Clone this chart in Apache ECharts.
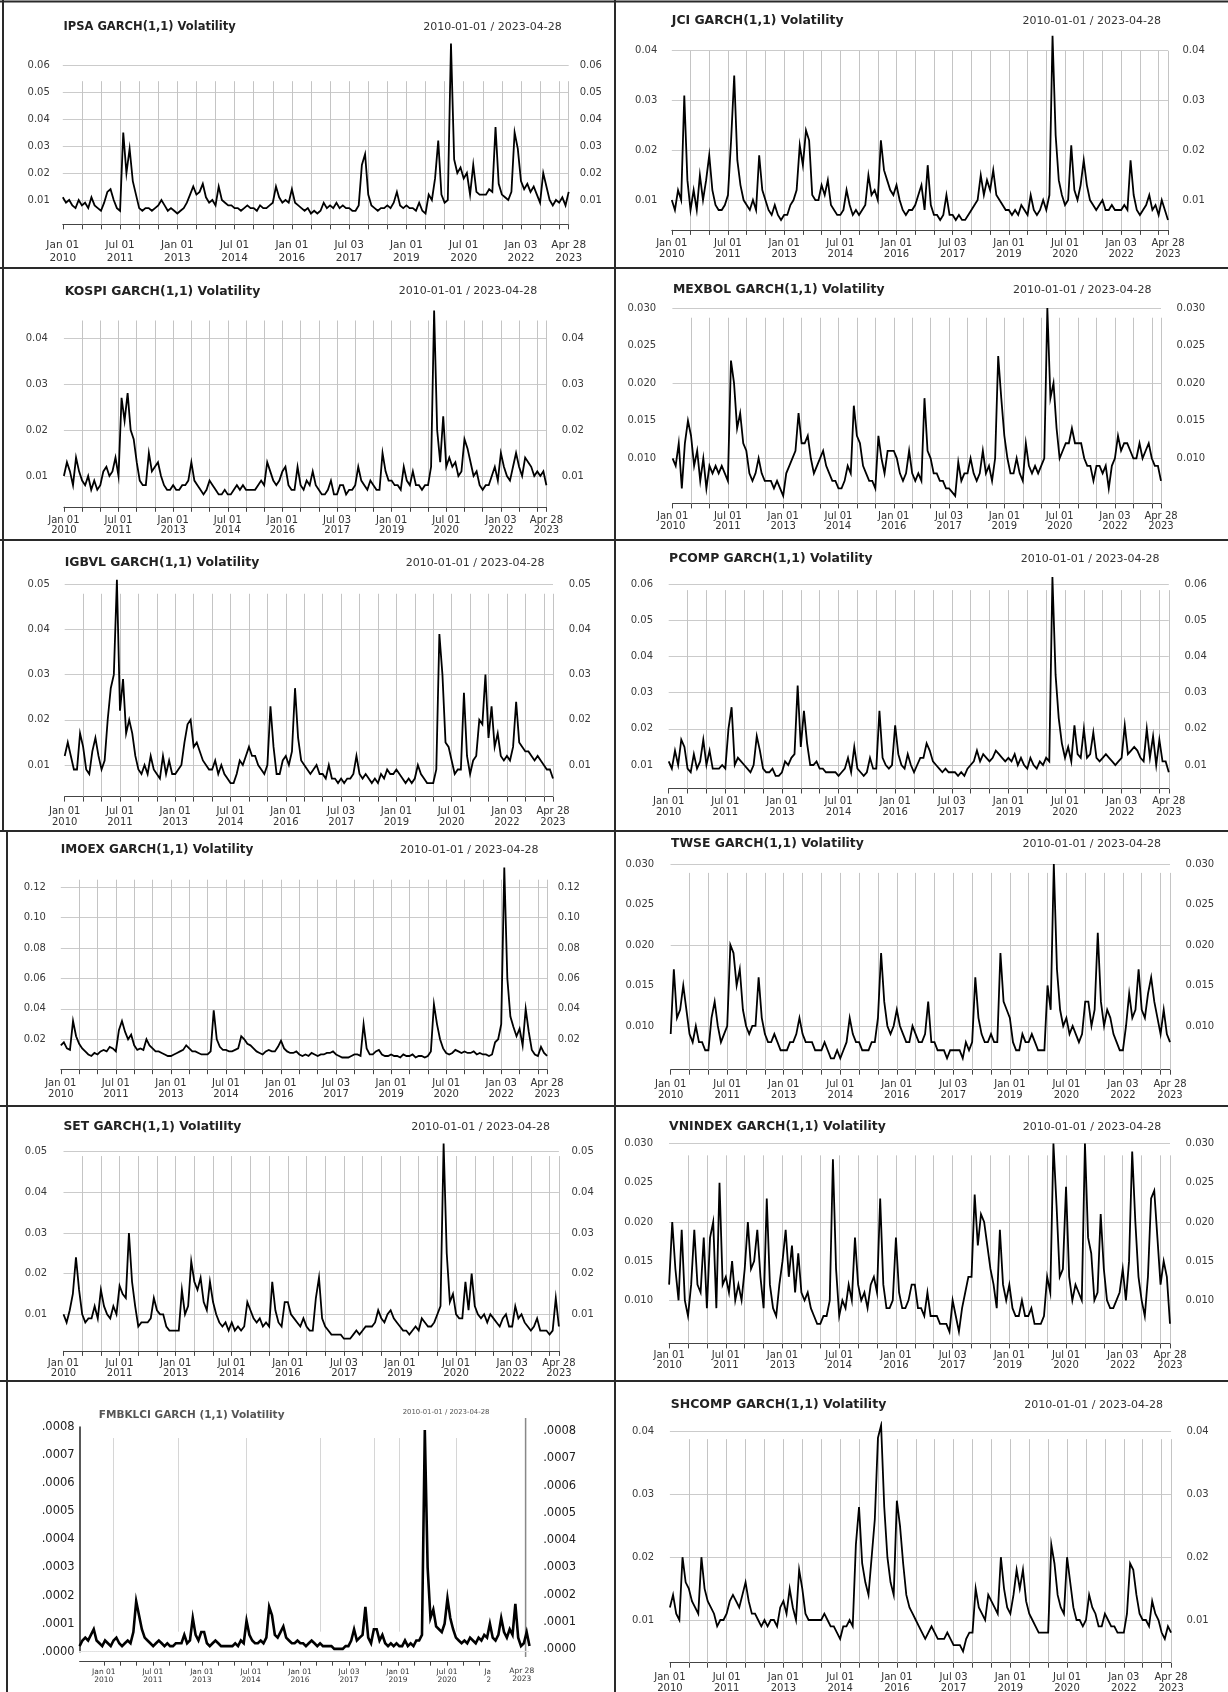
<!DOCTYPE html>
<html>
<head>
<meta charset="utf-8">
<script src="https://cdn.jsdelivr.net/npm/echarts@6/dist/echarts.min.js"></script>
<style>html,body{margin:0;padding:0;background:#fff}#c{width:1228px;height:1692px}</style>
</head>
<body>
<div id="c"></div>
<script>
// ---------- categories (monthly, Jan 2010 .. Apr 2023) ----------
const months = [];
for (let y = 2010; y <= 2023; y++) {
  for (let m = 1; m <= 12; m++) {
    if (y === 2023 && m > 4) break;
    months.push(y + '-' + String(m).padStart(2, '0'));
  }
}
// ---------- x tick labels ----------
const tickLabels = ['Jan 01\n2010','Jul 01\n2011','Jan 01\n2013','Jul 01\n2014','Jan 01\n2016','Jul 03\n2017','Jan 01\n2019','Jul 01\n2020','Jan 03\n2022','Apr 28\n2023'];
const labelIdx = [0,18,36,54,72,90,108,126,144,159];
const tickIdx = [0,6,12,18,24,30,36,42,48,54,60,66,72,78,84,90,96,102,108,114,120,126,132,138,144,150,156,159];
const dateRange = '2010-01-01 / 2023-04-28';

// ---------- series values (monthly readings) ----------
const ipsa = [
0.011,0.009,0.010,0.008,0.007,0.010,0.008,0.009,0.007,0.011,0.008,0.007,
0.006,0.009,0.013,0.014,0.010,0.007,0.006,0.035,0.020,0.029,0.017,0.012,
0.007,0.006,0.007,0.007,0.006,0.007,0.008,0.010,0.008,0.006,0.007,0.006,
0.005,0.006,0.007,0.009,0.012,0.015,0.012,0.013,0.016,0.011,0.009,0.010,
0.008,0.015,0.010,0.009,0.008,0.008,0.007,0.007,0.006,0.007,0.008,0.007,
0.007,0.006,0.008,0.007,0.007,0.008,0.009,0.015,0.011,0.009,0.010,0.009,
0.014,0.009,0.008,0.007,0.006,0.007,0.005,0.006,0.005,0.006,0.009,0.007,
0.008,0.007,0.009,0.007,0.008,0.007,0.007,0.006,0.006,0.008,0.023,0.027,
0.012,0.008,0.007,0.006,0.007,0.007,0.008,0.007,0.009,0.013,0.008,0.007,
0.008,0.007,0.007,0.006,0.009,0.006,0.005,0.012,0.010,0.018,0.032,0.012,
0.009,0.010,0.068,0.025,0.020,0.022,0.018,0.020,0.012,0.023,0.013,0.012,
0.012,0.012,0.014,0.013,0.037,0.016,0.012,0.011,0.010,0.013,0.035,0.029,
0.017,0.014,0.016,0.013,0.015,0.012,0.009,0.020,0.015,0.010,0.008,0.010,
0.009,0.011,0.008,0.013];
const jci = [
0.010,0.008,0.012,0.010,0.031,0.014,0.008,0.012,0.008,0.015,0.010,0.014,
0.019,0.012,0.009,0.008,0.008,0.009,0.011,0.022,0.035,0.018,0.013,0.010,
0.009,0.008,0.010,0.008,0.019,0.012,0.010,0.008,0.007,0.009,0.007,0.006,
0.007,0.007,0.009,0.010,0.012,0.021,0.017,0.024,0.022,0.011,0.010,0.010,
0.013,0.011,0.014,0.009,0.008,0.007,0.007,0.008,0.012,0.009,0.007,0.008,
0.007,0.008,0.009,0.015,0.011,0.012,0.010,0.022,0.016,0.014,0.012,0.011,
0.013,0.010,0.008,0.007,0.008,0.008,0.009,0.011,0.013,0.008,0.017,0.009,
0.007,0.007,0.006,0.007,0.011,0.007,0.007,0.006,0.007,0.006,0.006,0.007,
0.008,0.009,0.010,0.015,0.011,0.014,0.012,0.016,0.011,0.010,0.009,0.008,
0.008,0.007,0.008,0.007,0.009,0.008,0.007,0.011,0.008,0.007,0.008,0.010,
0.008,0.011,0.043,0.023,0.014,0.011,0.009,0.010,0.021,0.012,0.010,0.013,
0.018,0.013,0.010,0.009,0.008,0.009,0.010,0.008,0.008,0.009,0.008,0.008,
0.008,0.009,0.008,0.018,0.011,0.008,0.007,0.008,0.009,0.011,0.008,0.009,
0.007,0.010,0.008,0.006];
const kospi = [
0.010,0.013,0.011,0.008,0.014,0.011,0.009,0.008,0.010,0.007,0.009,0.007,
0.008,0.011,0.012,0.010,0.011,0.014,0.010,0.027,0.022,0.028,0.020,0.018,
0.013,0.009,0.008,0.008,0.015,0.011,0.012,0.013,0.010,0.008,0.007,0.007,
0.008,0.007,0.007,0.008,0.008,0.009,0.013,0.009,0.008,0.007,0.006,0.007,
0.009,0.008,0.007,0.006,0.006,0.007,0.006,0.006,0.007,0.008,0.007,0.008,
0.007,0.007,0.007,0.007,0.008,0.009,0.008,0.013,0.011,0.009,0.008,0.009,
0.011,0.012,0.008,0.007,0.007,0.012,0.008,0.007,0.009,0.008,0.011,0.008,
0.007,0.006,0.006,0.007,0.009,0.006,0.006,0.008,0.008,0.006,0.007,0.007,
0.008,0.012,0.009,0.008,0.007,0.009,0.008,0.007,0.007,0.015,0.011,0.009,
0.009,0.008,0.008,0.007,0.012,0.009,0.008,0.011,0.008,0.008,0.007,0.008,
0.008,0.012,0.046,0.020,0.013,0.023,0.012,0.014,0.012,0.013,0.010,0.011,
0.018,0.016,0.013,0.010,0.011,0.008,0.007,0.008,0.008,0.010,0.012,0.009,
0.015,0.012,0.010,0.009,0.012,0.015,0.012,0.010,0.014,0.013,0.012,0.010,
0.011,0.010,0.011,0.008];
const mexbol = [
0.010,0.009,0.012,0.006,0.012,0.015,0.013,0.009,0.011,0.007,0.010,0.006,
0.009,0.008,0.009,0.008,0.009,0.008,0.007,0.023,0.020,0.014,0.016,0.012,
0.011,0.008,0.007,0.008,0.010,0.008,0.007,0.007,0.007,0.006,0.007,0.006,
0.005,0.008,0.009,0.010,0.011,0.016,0.012,0.012,0.013,0.010,0.008,0.009,
0.010,0.011,0.009,0.008,0.007,0.007,0.006,0.006,0.007,0.009,0.008,0.017,
0.013,0.012,0.009,0.008,0.007,0.007,0.006,0.013,0.010,0.008,0.011,0.011,
0.011,0.010,0.008,0.007,0.008,0.011,0.008,0.007,0.008,0.007,0.018,0.011,
0.010,0.008,0.008,0.007,0.007,0.006,0.006,0.0055,0.005,0.0095,0.007,0.008,
0.008,0.010,0.008,0.007,0.008,0.011,0.008,0.009,0.007,0.010,0.0236,0.018,
0.013,0.010,0.008,0.008,0.010,0.008,0.007,0.012,0.009,0.008,0.009,0.008,
0.009,0.010,0.030,0.018,0.020,0.014,0.010,0.011,0.012,0.012,0.014,0.012,
0.012,0.012,0.010,0.009,0.009,0.007,0.009,0.009,0.008,0.009,0.006,0.009,
0.010,0.013,0.011,0.012,0.012,0.011,0.010,0.010,0.012,0.010,0.011,0.012,
0.010,0.009,0.009,0.007];
const igbvl = [
0.012,0.015,0.012,0.009,0.009,0.017,0.014,0.009,0.008,0.013,0.016,0.012,
0.009,0.011,0.020,0.027,0.030,0.051,0.022,0.029,0.017,0.020,0.017,0.012,
0.009,0.008,0.010,0.008,0.012,0.009,0.008,0.007,0.012,0.008,0.011,0.008,
0.008,0.009,0.010,0.015,0.019,0.020,0.014,0.015,0.013,0.011,0.010,0.009,
0.009,0.011,0.008,0.010,0.008,0.007,0.006,0.006,0.008,0.011,0.010,0.012,
0.014,0.012,0.012,0.010,0.009,0.008,0.010,0.023,0.014,0.008,0.008,0.011,
0.012,0.010,0.013,0.027,0.016,0.011,0.010,0.009,0.008,0.009,0.010,0.008,
0.008,0.007,0.010,0.007,0.007,0.006,0.007,0.006,0.007,0.007,0.008,0.012,
0.008,0.007,0.008,0.007,0.006,0.007,0.006,0.008,0.007,0.009,0.008,0.008,
0.009,0.008,0.007,0.006,0.007,0.006,0.007,0.010,0.008,0.007,0.006,0.006,
0.006,0.009,0.039,0.030,0.015,0.014,0.011,0.008,0.009,0.009,0.026,0.012,
0.008,0.011,0.012,0.020,0.019,0.030,0.016,0.023,0.014,0.017,0.012,0.011,
0.012,0.011,0.014,0.024,0.015,0.014,0.013,0.013,0.012,0.011,0.012,0.011,
0.010,0.009,0.009,0.007];
const pcomp = [
0.011,0.009,0.014,0.010,0.017,0.015,0.009,0.008,0.013,0.009,0.011,0.017,
0.010,0.014,0.009,0.009,0.009,0.010,0.009,0.020,0.026,0.010,0.012,0.011,
0.010,0.009,0.008,0.010,0.018,0.014,0.009,0.008,0.008,0.009,0.007,0.007,
0.008,0.011,0.010,0.012,0.013,0.032,0.015,0.025,0.016,0.010,0.010,0.011,
0.009,0.009,0.008,0.008,0.008,0.008,0.007,0.008,0.009,0.012,0.008,0.015,
0.009,0.008,0.007,0.008,0.012,0.009,0.009,0.025,0.012,0.010,0.009,0.010,
0.021,0.013,0.010,0.009,0.013,0.010,0.008,0.010,0.012,0.012,0.016,0.014,
0.011,0.010,0.009,0.008,0.009,0.008,0.008,0.008,0.007,0.008,0.007,0.009,
0.010,0.011,0.014,0.011,0.013,0.012,0.011,0.012,0.014,0.013,0.012,0.011,
0.012,0.011,0.013,0.010,0.012,0.010,0.009,0.012,0.010,0.009,0.011,0.010,
0.012,0.011,0.062,0.035,0.023,0.016,0.012,0.015,0.011,0.021,0.013,0.012,
0.020,0.012,0.013,0.019,0.012,0.011,0.012,0.013,0.012,0.011,0.010,0.011,
0.012,0.021,0.013,0.014,0.015,0.014,0.012,0.011,0.020,0.012,0.018,0.010,
0.017,0.011,0.011,0.008];
const imoex = [
0.016,0.018,0.014,0.013,0.032,0.022,0.017,0.014,0.012,0.010,0.009,0.011,
0.010,0.012,0.013,0.012,0.015,0.014,0.012,0.026,0.032,0.025,0.020,0.023,
0.016,0.013,0.014,0.013,0.020,0.016,0.014,0.012,0.012,0.011,0.010,0.009,
0.009,0.010,0.011,0.012,0.013,0.016,0.014,0.012,0.012,0.011,0.010,0.010,
0.010,0.012,0.039,0.020,0.015,0.013,0.013,0.012,0.012,0.013,0.014,0.022,
0.020,0.017,0.016,0.014,0.012,0.011,0.010,0.012,0.013,0.012,0.012,0.015,
0.019,0.014,0.012,0.011,0.011,0.012,0.010,0.009,0.010,0.009,0.011,0.010,
0.009,0.010,0.010,0.011,0.011,0.012,0.010,0.009,0.008,0.008,0.008,0.009,
0.010,0.010,0.009,0.030,0.014,0.010,0.010,0.012,0.013,0.010,0.009,0.009,
0.010,0.009,0.009,0.008,0.010,0.009,0.009,0.010,0.008,0.009,0.009,0.008,
0.009,0.012,0.043,0.030,0.020,0.014,0.011,0.010,0.011,0.013,0.012,0.011,
0.012,0.011,0.011,0.012,0.010,0.011,0.010,0.010,0.009,0.010,0.018,0.020,
0.030,0.133,0.060,0.035,0.028,0.022,0.027,0.016,0.040,0.025,0.013,0.010,
0.009,0.015,0.011,0.009];
const twse = [
0.009,0.017,0.011,0.012,0.015,0.012,0.009,0.008,0.010,0.008,0.008,0.007,
0.007,0.011,0.013,0.010,0.008,0.009,0.010,0.020,0.019,0.015,0.017,0.012,
0.010,0.009,0.010,0.010,0.016,0.011,0.009,0.008,0.008,0.009,0.008,0.007,
0.007,0.007,0.008,0.008,0.009,0.011,0.009,0.008,0.008,0.008,0.007,0.007,
0.007,0.008,0.007,0.006,0.006,0.007,0.006,0.007,0.008,0.011,0.009,0.008,
0.008,0.007,0.007,0.007,0.008,0.008,0.011,0.019,0.013,0.010,0.009,0.010,
0.012,0.010,0.009,0.008,0.008,0.010,0.009,0.008,0.008,0.009,0.013,0.008,
0.008,0.007,0.007,0.007,0.006,0.007,0.007,0.007,0.007,0.006,0.008,0.007,
0.008,0.016,0.011,0.009,0.008,0.008,0.009,0.008,0.008,0.019,0.013,0.012,
0.011,0.008,0.007,0.007,0.009,0.008,0.008,0.009,0.008,0.007,0.007,0.007,
0.015,0.012,0.030,0.017,0.012,0.010,0.011,0.009,0.010,0.009,0.008,0.009,
0.013,0.013,0.010,0.012,0.0215,0.013,0.010,0.012,0.011,0.009,0.008,0.007,
0.007,0.010,0.014,0.011,0.012,0.017,0.012,0.011,0.014,0.016,0.013,0.011,
0.009,0.012,0.009,0.008];
const setIdx = [
0.010,0.008,0.011,0.015,0.024,0.016,0.010,0.008,0.009,0.009,0.012,0.009,
0.016,0.012,0.010,0.009,0.012,0.010,0.017,0.015,0.014,0.030,0.018,0.012,
0.007,0.008,0.008,0.008,0.009,0.014,0.011,0.010,0.010,0.007,0.006,0.006,
0.006,0.006,0.016,0.010,0.012,0.023,0.018,0.016,0.019,0.013,0.011,0.018,
0.013,0.010,0.008,0.007,0.008,0.006,0.008,0.006,0.007,0.006,0.007,0.013,
0.011,0.009,0.008,0.009,0.007,0.008,0.007,0.018,0.011,0.008,0.007,0.013,
0.013,0.010,0.009,0.008,0.007,0.009,0.007,0.006,0.006,0.014,0.019,0.009,
0.007,0.006,0.005,0.005,0.005,0.005,0.004,0.004,0.004,0.005,0.006,0.005,
0.006,0.007,0.007,0.007,0.008,0.011,0.009,0.008,0.010,0.011,0.009,0.008,
0.007,0.006,0.006,0.005,0.006,0.007,0.006,0.009,0.008,0.007,0.007,0.008,
0.010,0.012,0.052,0.025,0.013,0.015,0.010,0.009,0.009,0.018,0.011,0.020,
0.012,0.010,0.009,0.010,0.008,0.010,0.009,0.008,0.007,0.009,0.010,0.007,
0.007,0.012,0.009,0.010,0.008,0.007,0.006,0.007,0.009,0.006,0.006,0.006,
0.005,0.006,0.014,0.007];
const vnindex = [
0.012,0.020,0.014,0.010,0.019,0.010,0.008,0.012,0.019,0.012,0.011,0.018,
0.009,0.018,0.020,0.009,0.025,0.012,0.013,0.011,0.015,0.010,0.012,0.010,
0.014,0.020,0.014,0.015,0.019,0.013,0.009,0.023,0.012,0.009,0.008,0.012,
0.015,0.019,0.013,0.017,0.011,0.016,0.011,0.010,0.011,0.009,0.008,0.007,
0.007,0.008,0.008,0.010,0.028,0.014,0.008,0.010,0.009,0.012,0.010,0.018,
0.012,0.010,0.011,0.009,0.012,0.013,0.011,0.023,0.012,0.009,0.009,0.010,
0.018,0.011,0.009,0.009,0.010,0.012,0.012,0.009,0.009,0.008,0.011,0.008,
0.008,0.008,0.007,0.007,0.007,0.006,0.010,0.008,0.006,0.009,0.011,0.013,
0.013,0.0235,0.017,0.021,0.020,0.017,0.014,0.012,0.009,0.019,0.012,0.010,
0.012,0.009,0.008,0.008,0.010,0.008,0.008,0.009,0.007,0.007,0.007,0.008,
0.013,0.011,0.030,0.022,0.013,0.014,0.0245,0.013,0.010,0.012,0.011,0.010,
0.030,0.018,0.016,0.010,0.011,0.021,0.014,0.010,0.009,0.009,0.010,0.011,
0.014,0.010,0.015,0.029,0.020,0.013,0.010,0.008,0.013,0.023,0.024,0.018,
0.012,0.015,0.013,0.007];
const fmbklci = [
0.00002,0.00004,0.00005,0.00004,0.00006,0.00008,0.00004,0.00003,0.00002,0.00004,0.00003,0.00002,
0.00004,0.00005,0.00003,0.00002,0.00003,0.00004,0.00003,0.00007,0.00018,0.00013,0.00008,0.00005,
0.00004,0.00003,0.00002,0.00003,0.00004,0.00003,0.00002,0.00003,0.00002,0.00002,0.00003,0.00003,
0.00003,0.00006,0.00003,0.00004,0.00012,0.00006,0.00004,0.00007,0.00007,0.00003,0.00002,0.00003,
0.00004,0.00003,0.00002,0.00002,0.00002,0.00002,0.00002,0.00003,0.00002,0.00004,0.00003,0.00011,
0.00006,0.00004,0.00003,0.00003,0.00004,0.00003,0.00005,0.00016,0.00013,0.00006,0.00005,0.00007,
0.00009,0.00005,0.00004,0.00003,0.00003,0.00004,0.00003,0.00003,0.00002,0.00003,0.00004,0.00003,
0.00002,0.00003,0.00002,0.00002,0.00002,0.00002,0.00001,0.00001,0.00001,0.00001,0.00002,0.00002,
0.00004,0.00008,0.00004,0.00005,0.00006,0.00016,0.00005,0.00003,0.00008,0.00008,0.00004,0.00006,
0.00003,0.00002,0.00003,0.00002,0.00003,0.00002,0.00002,0.00004,0.00002,0.00003,0.00002,0.00004,
0.00004,0.00006,0.00079,0.00030,0.00012,0.00015,0.00009,0.00008,0.00007,0.00010,0.00019,0.00012,
0.00008,0.00005,0.00004,0.00003,0.00004,0.00003,0.00005,0.00004,0.00003,0.00005,0.00004,0.00006,
0.00005,0.00010,0.00005,0.00004,0.00006,0.00012,0.00007,0.00005,0.00008,0.00006,0.00017,0.00005,
0.00002,0.00003,0.00007,0.00002];
const shcomp = [
0.012,0.014,0.011,0.010,0.020,0.016,0.015,0.013,0.012,0.011,0.020,0.015,
0.013,0.012,0.011,0.009,0.010,0.010,0.011,0.013,0.014,0.013,0.012,0.014,
0.016,0.013,0.011,0.011,0.010,0.009,0.010,0.009,0.010,0.010,0.009,0.012,
0.013,0.011,0.015,0.012,0.010,0.018,0.015,0.011,0.010,0.010,0.010,0.010,
0.010,0.011,0.010,0.009,0.009,0.008,0.007,0.009,0.009,0.010,0.009,0.022,
0.028,0.019,0.016,0.014,0.020,0.026,0.039,0.041,0.028,0.020,0.016,0.014,
0.029,0.025,0.019,0.014,0.012,0.011,0.010,0.009,0.008,0.007,0.008,0.009,
0.008,0.007,0.007,0.007,0.008,0.007,0.006,0.006,0.006,0.005,0.007,0.008,
0.008,0.015,0.012,0.011,0.010,0.014,0.013,0.012,0.011,0.020,0.015,0.012,
0.011,0.014,0.018,0.015,0.018,0.013,0.011,0.010,0.009,0.008,0.008,0.008,
0.008,0.022,0.019,0.014,0.012,0.011,0.020,0.016,0.012,0.010,0.010,0.009,
0.010,0.014,0.012,0.011,0.009,0.009,0.011,0.010,0.009,0.009,0.008,0.008,
0.008,0.011,0.019,0.018,0.014,0.011,0.010,0.010,0.009,0.013,0.011,0.010,
0.008,0.007,0.009,0.008];

// y tick values
const ticks1to6 = [0.01,0.02,0.03,0.04,0.05,0.06];
const ticks1to4 = [0.01,0.02,0.03,0.04];
const ticks1to5 = [0.01,0.02,0.03,0.04,0.05];
const ticks10to30 = [0.010,0.015,0.020,0.025,0.030];
const ticksImoex = [0.02,0.04,0.06,0.08,0.10,0.12];
const ticksKlci = [0,0.0001,0.0002,0.0003,0.0004,0.0005,0.0006,0.0007,0.0008];

// ---------- layout (positions / styles) ----------
const FONT = 'DejaVu Sans';
const panels = [
 {title:'IPSA GARCH(1,1) Volatility', data:ipsa, left:62.8, right:568.7, top:38, bottom:224.3, min:0.001, max:0.07, ticks:ticks1to6, dec:2, vTop:0.054, lm:13, rm:11, tx:63.5, ty:26.7, dx:561.7, tfs:11.5, xm:14.5, xlh:13, xfs:10.5},
 {title:'JCI GARCH(1,1) Volatility', data:jci, left:671.8, right:1168, top:30.8, bottom:229.9, min:0.004, max:0.044, ticks:ticks1to4, dec:2, vTop:0.04, lm:14.5, rm:14.5, tx:671.8, ty:20.7, dx:1161, tfs:12.4, xm:8, xlh:10.7, xfs:10},
 {title:'KOSPI GARCH(1,1) Volatility', data:kospi, left:63.9, right:546.4, top:305.8, bottom:506.8, min:0.0033, max:0.047, ticks:ticks1to4, dec:2, vTop:0.0438, lm:16, rm:15.3, tx:64.7, ty:291.3, dx:537.3, tfs:12.4, xm:8.3, xlh:10, xfs:10},
 {title:'MEXBOL GARCH(1,1) Volatility', data:mexbol, left:672.6, right:1161, top:304.2, bottom:503.4, min:0.004, max:0.0305, ticks:ticks10to30, dec:3, vTop:0.0287, lm:16.5, rm:15.6, tx:673, ty:289.7, dx:1151.5, tfs:12.4, xm:8, xlh:10, xfs:10},
 {title:'IGBVL GARCH(1,1) Volatility', data:igbvl, left:64.7, right:553, top:577.5, bottom:796.6, min:0.003, max:0.0515, ticks:ticks1to5, dec:2, vTop:0.0479, lm:14.9, rm:15.7, tx:64.7, ty:562.7, dx:544.4, tfs:12.4, xm:8.5, xlh:11.7, xfs:10},
 {title:'PCOMP GARCH(1,1) Volatility', data:pcomp, left:668.7, right:1168.8, top:573.5, bottom:788.5, min:0.0035, max:0.063, ticks:ticks1to6, dec:2, vTop:0.0584, lm:15.7, rm:15.7, tx:669.1, ty:559, dx:1159.4, tfs:12.4, xm:7.9, xlh:11, xfs:10},
 {title:'IMOEX GARCH(1,1) Volatility', data:imoex, left:60.8, right:547.1, top:864.5, bottom:1069.2, min:0.0003, max:0.135, ticks:ticksImoex, dec:2, vTop:0.125, lm:14.9, rm:10.6, tx:60.8, ty:850, dx:538.5, tfs:12, xm:8.5, xlh:11, xfs:10},
 {title:'TWSE GARCH(1,1) Volatility', data:twse, left:670.7, right:1170, top:858.3, bottom:1069.7, min:0.0046, max:0.0307, ticks:ticks10to30, dec:3, vTop:0.0289, lm:16.5, rm:15.6, tx:671, ty:844, dx:1161, tfs:12.4, xm:9.7, xlh:10.7, xfs:10},
 {title:'SET GARCH(1,1) Volatility', data:setIdx, left:63.5, right:558.9, top:1139.4, bottom:1350.9, min:0.001, max:0.053, ticks:ticks1to5, dec:2, vTop:0.0489, lm:16.4, rm:12.6, tx:63.5, ty:1126.7, dx:549.9, tfs:12.3, xm:7.1, xlh:10.4, xfs:10},
 {title:'VNINDEX GARCH(1,1) Volatility', data:vnindex, left:669.1, right:1170, top:1139.7, bottom:1343.4, min:0.0045, max:0.0305, ticks:ticks10to30, dec:3, vTop:0.0285, lm:16.1, rm:15.6, tx:669.1, ty:1126.7, dx:1161.3, tfs:12.4, xm:7, xlh:10, xfs:10},
 {title:'FMBKLCI GARCH (1,1) Volatility', data:fmbklci, special:true, left:79.6, right:529.5, top:1427.1, bottom:1651.7, min:0, max:0.0008, rmin:-0.0000088, rmax:0.000814, ticks:ticksKlci, hTicks:[0.0001,0.0002,0.0003,0.0004,0.0005,0.0006,0.0007], dec:4, vIdx:[12,35,59,85,104,113,133], vBot:0.0000713, vTop:0.000761, lm:5, rm:13.7, tx:98.8, ty:1415, dx:489.5, dy:1412.7, tfs:10.5, dfs:6.9},
 {title:'SHCOMP GARCH(1,1) Volatility', data:shcomp, left:669.9, right:1171.1, top:1422.2, bottom:1662.7, min:0.0032, max:0.0415, ticks:ticks1to4, dec:2, vTop:0.0388, lm:15.7, rm:15.3, tx:670.7, ty:1405, dx:1162.9, tfs:12.5, xm:9.7, xlh:10.6, xfs:10}
];
const gridIdx = tickIdx.filter(k => k > 0);

const labelMap = {};
labelIdx.forEach((k, j) => { labelMap[k] = tickLabels[j]; });
const tickSet = new Set(tickIdx);

const grid = [], xAxis = [], yAxis = [], series = [], graphic = [];

panels.forEach((p, i) => {
  grid.push({left:p.left, top:p.top, width:p.right - p.left, height:p.bottom - p.top, containLabel:false, outerBoundsMode:'none'});
  if (p.special) {
    xAxis.push({type:'category', gridIndex:i, data:months, boundaryGap:false, show:false});
  } else {
    xAxis.push({
      type:'category', gridIndex:i, data:months, boundaryGap:false,
      axisLine:{show:true, lineStyle:{color:'#444', width:1}},
      axisTick:{show:true, interval:(k) => tickSet.has(k), length:5, lineStyle:{color:'#444', width:1}},
      axisLabel:{interval:(k) => (k in labelMap), formatter:(v, k) => labelMap[k] || '',
        fontFamily:FONT, fontSize:p.xfs, lineHeight:p.xlh, margin:p.xm, color:'#333'},
      splitLine:{show:false}
    });
  }
  const fmt = p.special ? (v) => v.toFixed(4).replace(/^0/, '') : (v) => v.toFixed(p.dec);
  const labStyle = p.special ? {fontFamily:FONT, fontSize:11.5, color:'#222'} : {fontFamily:FONT, fontSize:10, color:'#3a3a3a'};
  yAxis.push({type:'value', gridIndex:i, position:'left', min:p.min, max:p.max,
    splitLine:{show:false}, axisTick:{show:false},
    axisLine:{show:!!p.special, lineStyle:{color:'#222', width:1.5}},
    axisLabel:Object.assign({customValues:p.ticks, formatter:fmt, margin:p.lm}, labStyle)});
  yAxis.push({type:'value', gridIndex:i, position:'right', min:p.special ? p.rmin : p.min, max:p.special ? p.rmax : p.max,
    splitLine:{show:false}, axisTick:{show:false}, axisLine:{show:false},
    axisLabel:Object.assign({customValues:p.ticks, formatter:fmt, margin:p.rm}, labStyle)});

  const hStyle = p.special ? {color:'#e2e2e2', width:1, type:'dotted'} : {color:'#cbcbcb', width:1, type:'solid'};
  const vStyle = p.special ? {color:'#d6d6d6', width:1, type:'solid'} : {color:'#c4c4c4', width:1, type:'solid'};
  const hVals = p.hTicks || p.ticks;
  const vList = p.vIdx || gridIdx;
  const vBot = p.vBot !== undefined ? p.vBot : p.min;
  const mlData = hVals.map(v => ({yAxis:v, lineStyle:hStyle}))
    .concat(vList.map(k => [{coord:[months[k], vBot], lineStyle:vStyle}, {coord:[months[k], p.vTop]}]));

  series.push({
    type:'line', xAxisIndex:i, yAxisIndex:2 * i, data:p.data, symbol:'none', silent:true,
    lineStyle:{color:'#000', width:p.special ? 2.6 : 1.8, join:'miter'}, z:3, animation:false,
    markLine:{silent:true, symbol:['none','none'], label:{show:false}, z:1, animation:false, emphasis:{disabled:true}, data:mlData}
  });

  // title + date range
  graphic.push({type:'text', x:p.tx, y:p.ty, silent:true, style:{text:p.title, fontFamily:FONT, fontWeight:'bold', fontSize:p.tfs,
    fill:p.special ? '#555' : '#222', align:'left', verticalAlign:'middle', textAlign:'left', textVerticalAlign:'middle'}});
  graphic.push({type:'text', x:p.dx, y:p.dy || p.ty, silent:true, style:{text:dateRange, fontFamily:FONT, fontSize:p.dfs || 11,
    fill:p.special ? '#555' : '#333', align:'right', verticalAlign:'middle', textAlign:'right', textVerticalAlign:'middle'}});
});

// FMBKLCI: separate label axis (misaligned in the original composite)
const gi = panels.length;
const klciTickVals = tickIdx.filter(k => k <= 144);
const klciLabVals = labelIdx.filter(k => k <= 144);
grid.push({left:79.6, top:1640, width:419.2, height:21.7, containLabel:false, outerBoundsMode:'none'});
xAxis.push({type:'value', gridIndex:gi, min:-8.9, max:145,
  axisLine:{show:true, lineStyle:{color:'#444', width:1}},
  axisTick:{show:true, customValues:klciTickVals, length:4, lineStyle:{color:'#444'}},
  axisLabel:{customValues:klciLabVals, formatter:(v) => labelMap[Math.round(v)] || '', fontFamily:FONT, fontSize:7.5, lineHeight:8.3, margin:5.8, color:'#333'},
  splitLine:{show:false}});
yAxis.push({type:'value', gridIndex:gi, show:false, min:0, max:1});
series.push({type:'line', xAxisIndex:gi, yAxisIndex:2 * gi, data:[], silent:true});

graphic.push({type:'rect', shape:{x:490.5, y:1655, width:18.5, height:37}, style:{fill:'#fff'}, z:100, silent:true});
graphic.push({type:'text', x:521.7, y:1666.5, z:101, silent:true, style:{text:tickLabels[9], fontFamily:FONT, fontSize:7.5, lineHeight:8.3,
  fill:'#333', align:'center', verticalAlign:'top', textAlign:'center', textVerticalAlign:'top'}});
graphic.push({type:'line', shape:{x1:525.6, y1:1418, x2:525.6, y2:1657}, style:{stroke:'#888', lineWidth:1.5}, silent:true});

// panel borders
const borderStyle = {stroke:'#2a2a2a', lineWidth:2};
[[0,1.5,1228,1.5],[3,0,3,831],[7,831,7,1692],[615,0,615,1692],
 [0,268,1228,268],[0,540,1228,540],[0,831,1228,831],[0,1106,1228,1106],[0,1381,1228,1381]]
 .forEach(s => graphic.push({type:'line', shape:{x1:s[0], y1:s[1], x2:s[2], y2:s[3]}, style:borderStyle, z:50, silent:true}));

const chart = echarts.init(document.getElementById('c'), null, {renderer:'canvas', width:1228, height:1692});
chart.setOption({
  animation:false,
  backgroundColor:'#fff',
  textStyle:{fontFamily:FONT},
  grid:grid, xAxis:xAxis, yAxis:yAxis, series:series, graphic:graphic
});
</script>
</body>
</html>
